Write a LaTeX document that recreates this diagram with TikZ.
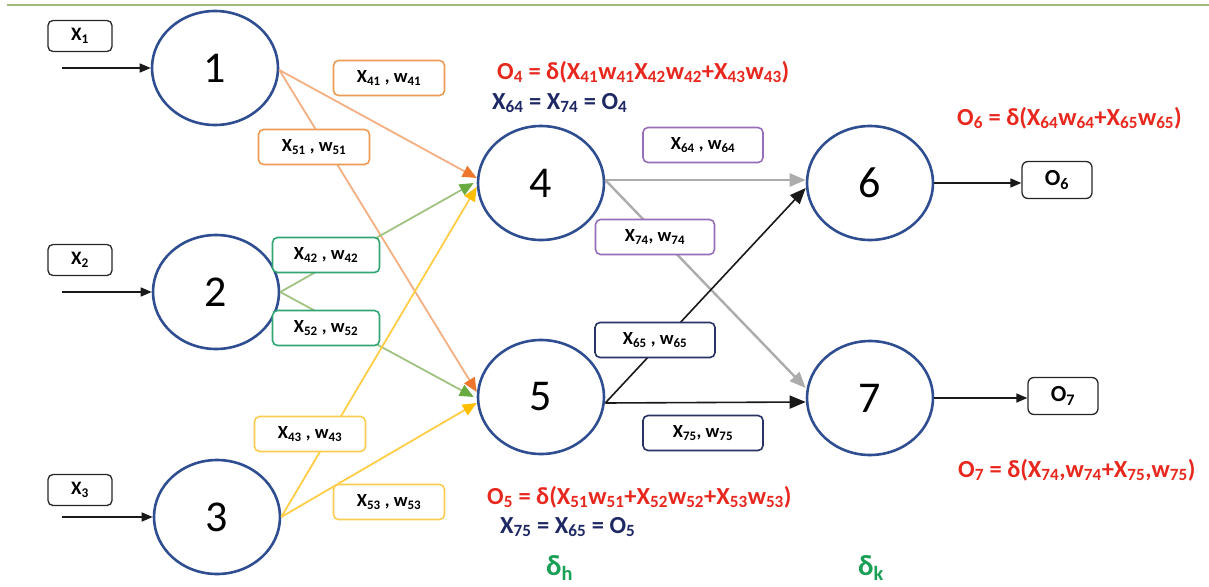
\documentclass[tikz,border=0pt]{standalone}
\usepackage{fontspec}
\setmainfont{Carlito}
\usetikzlibrary{shapes.geometric,arrows.meta}
\definecolor{nblue}{RGB}{47,78,145}
\definecolor{topgreen}{RGB}{160,185,120}
\definecolor{orL}{RGB}{244,175,130}
\definecolor{orH}{RGB}{237,120,45}
\definecolor{orB}{RGB}{238,155,85}
\definecolor{grL}{RGB}{160,195,130}
\definecolor{grH}{RGB}{105,170,65}
\definecolor{grB}{RGB}{50,165,115}
\definecolor{ylL}{RGB}{255,205,70}
\definecolor{ylH}{RGB}{255,190,0}
\definecolor{ylB}{RGB}{250,205,80}
\definecolor{gyL}{RGB}{172,172,172}
\definecolor{puB}{RGB}{150,110,185}
\definecolor{nvB}{RGB}{40,50,100}
\definecolor{fred}{RGB}{232,40,30}
\definecolor{fnavy}{RGB}{30,40,100}
\definecolor{fgreen}{RGB}{25,160,85}
\newcommand{\sbs}[1]{\textsubscript{#1}}
\begin{document}
\begin{tikzpicture}[x=1pt,y=-1pt,
  neuron/.style={ellipse,draw=nblue,line width=2.6pt,minimum width=126pt,minimum height=114pt,inner sep=0pt,font=\fontsize{44}{46}\selectfont},
  inbox/.style={draw=black!85,rounded corners=5pt,line width=1.3pt,minimum width=64pt,minimum height=31pt,inner sep=0pt,fill=white,font=\bfseries\fontsize{19}{21}\selectfont},
  outbox/.style={draw=black!85,rounded corners=6pt,line width=1.3pt,minimum width=70pt,minimum height=37pt,inner sep=0pt,fill=white,font=\bfseries\fontsize{23}{25}\selectfont},
  wbox/.style={rounded corners=5pt,line width=1.6pt,minimum width=111pt,minimum height=35pt,inner sep=0pt,fill=white,font=\bfseries\fontsize{18.5}{20}\selectfont},
  arr/.style={-{Triangle[length=11pt,width=9pt]},line width=1.6pt,black!90},
  orarr/.style={-{Triangle[length=14pt,width=12pt,color=orH]},line width=1.8pt,orL},
  grarr/.style={-{Triangle[length=14pt,width=12pt,color=grH]},line width=1.8pt,grL},
  ylarr/.style={-{Triangle[length=14pt,width=12pt,color=ylH]},line width=1.8pt,ylL},
  gyarr/.style={-{Triangle[length=16pt,width=13pt]},line width=2.4pt,gyL},
  bkarr/.style={-{Triangle[length=16pt,width=13pt]},line width=1.6pt,black!90},
  formula/.style={anchor=west,inner sep=0pt,font=\bfseries\fontsize{24.5}{27}\selectfont}
]
\useasboundingbox (0,0) rectangle (1209,586);
\fill[white] (0,0) rectangle (1209,586);
\draw[topgreen,line width=2.5pt] (7,5) -- (1209,5);

% neurons
\node[neuron] (n1) at (215,68) {1};
\node[neuron] (n2) at (216,292) {2};
\node[neuron] (n3) at (217,517) {3};
\node[neuron] (n4) at (541,183) {4};
\node[neuron] (n5) at (541,397) {5};
\node[neuron] (n6) at (870,183) {6};
\node[neuron] (n7) at (870,398) {7};

% inputs
\node[inbox] (x1) at (80,36) {X\sbs{1}};
\node[inbox] (x2) at (80,260) {X\sbs{2}};
\node[inbox] (x3) at (80,490) {X\sbs{3}};
\coordinate (a1) at (62,68);
\coordinate (a2) at (62,292);
\coordinate (a3) at (62,517);
\draw[arr] (a1) -- (n1.west);
\draw[arr] (a2) -- (n2.west);
\draw[arr] (a3) -- (n3.west);

% outputs
\node[outbox] (o6) at (1057,180) {O\sbs{6}};
\node[outbox] (o7) at (1063,396) {O\sbs{7}};
\draw[arr] (n6.east) -- (n6.east -| o6.west);
\draw[arr] (n7.east) -- (n7.east -| o7.west);

% input -> hidden
\draw[orarr] ([yshift=-2pt]n1.east) -- ([yshift=5pt]n4.west);
\draw[orarr] ([yshift=-2pt]n1.east) -- ([yshift=5pt]n5.west);
\draw[grarr] (n2.east) -- ([xshift=-3pt]n4.west);
\draw[grarr] (n2.east) -- ([xshift=-3pt]n5.west);
\draw[ylarr] (n3.east) -- ([yshift=-4pt]n4.west);
\draw[ylarr] (n3.east) -- ([yshift=-6pt]n5.west);

% hidden -> output
\draw[gyarr] ([yshift=3pt]n4.east) -- ([yshift=3pt]n6.west);
\draw[gyarr] ([yshift=3pt]n4.east) -- ([yshift=10pt]n7.west);
\draw[bkarr] ([yshift=-6pt]n5.east) -- ([yshift=-5pt]n6.west);
\draw[bkarr] ([yshift=-6pt]n5.east) -- ([yshift=-4pt]n7.west);

% weight labels
\node[wbox,draw=orB] (w41) at (389,78) {X\sbs{41} , w\sbs{41}};
\node[wbox,draw=orB] (w51) at (314,147) {X\sbs{51} , w\sbs{51}};
\node[wbox,draw=grB,minimum width=107pt] (w42) at (326,255) {X\sbs{42} , w\sbs{42}};
\node[wbox,draw=grB,minimum width=107pt] (w52) at (326,328) {X\sbs{52} , w\sbs{52}};
\node[wbox,draw=ylB] (w43) at (310,434) {X\sbs{43} , w\sbs{43}};
\node[wbox,draw=ylB] (w53) at (389,502) {X\sbs{53} , w\sbs{53}};
\node[wbox,draw=puB,minimum width=120pt] (w64) at (703,145) {X\sbs{64} , w\sbs{64}};
\node[wbox,draw=puB,minimum width=119pt] (w74) at (655,237) {X\sbs{74}, w\sbs{74}};
\node[wbox,draw=nvB,minimum width=120pt] (w65) at (655,340) {X\sbs{65} , w\sbs{65}};
\node[wbox,draw=nvB,minimum width=120pt] (w75) at (703,433) {X\sbs{75}, w\sbs{75}};

% formulas
\node[formula,text=fred] (f4) at (497,72) {O\sbs{4} = δ(X\sbs{41}w\sbs{41}X\sbs{42}w\sbs{42}+X\sbs{43}w\sbs{43})};
\node[formula,text=fnavy] (e4) at (492,103) {X\sbs{64} = X\sbs{74} = O\sbs{4}};
\node[formula,text=fred] (f6) at (957,118) {O\sbs{6} = δ(X\sbs{64}w\sbs{64}+X\sbs{65}w\sbs{65})};
\node[formula,text=fred] (f5) at (487,497) {O\sbs{5} = δ(X\sbs{51}w\sbs{51}+X\sbs{52}w\sbs{52}+X\sbs{53}w\sbs{53})};
\node[formula,text=fnavy] (e5) at (500,527) {X\sbs{75} = X\sbs{65} = O\sbs{5}};
\node[formula,text=fred] (f7) at (958,470) {O\sbs{7} = δ(X\sbs{74},w\sbs{74}+X\sbs{75},w\sbs{75})};
\node[formula,text=fgreen,font=\bfseries\fontsize{29}{31}\selectfont] (dh) at (546,568) {δ\sbs{h}};
\node[formula,text=fgreen,font=\bfseries\fontsize{29}{31}\selectfont] (dk) at (858,568) {δ\sbs{k}};
\end{tikzpicture}
\end{document}
